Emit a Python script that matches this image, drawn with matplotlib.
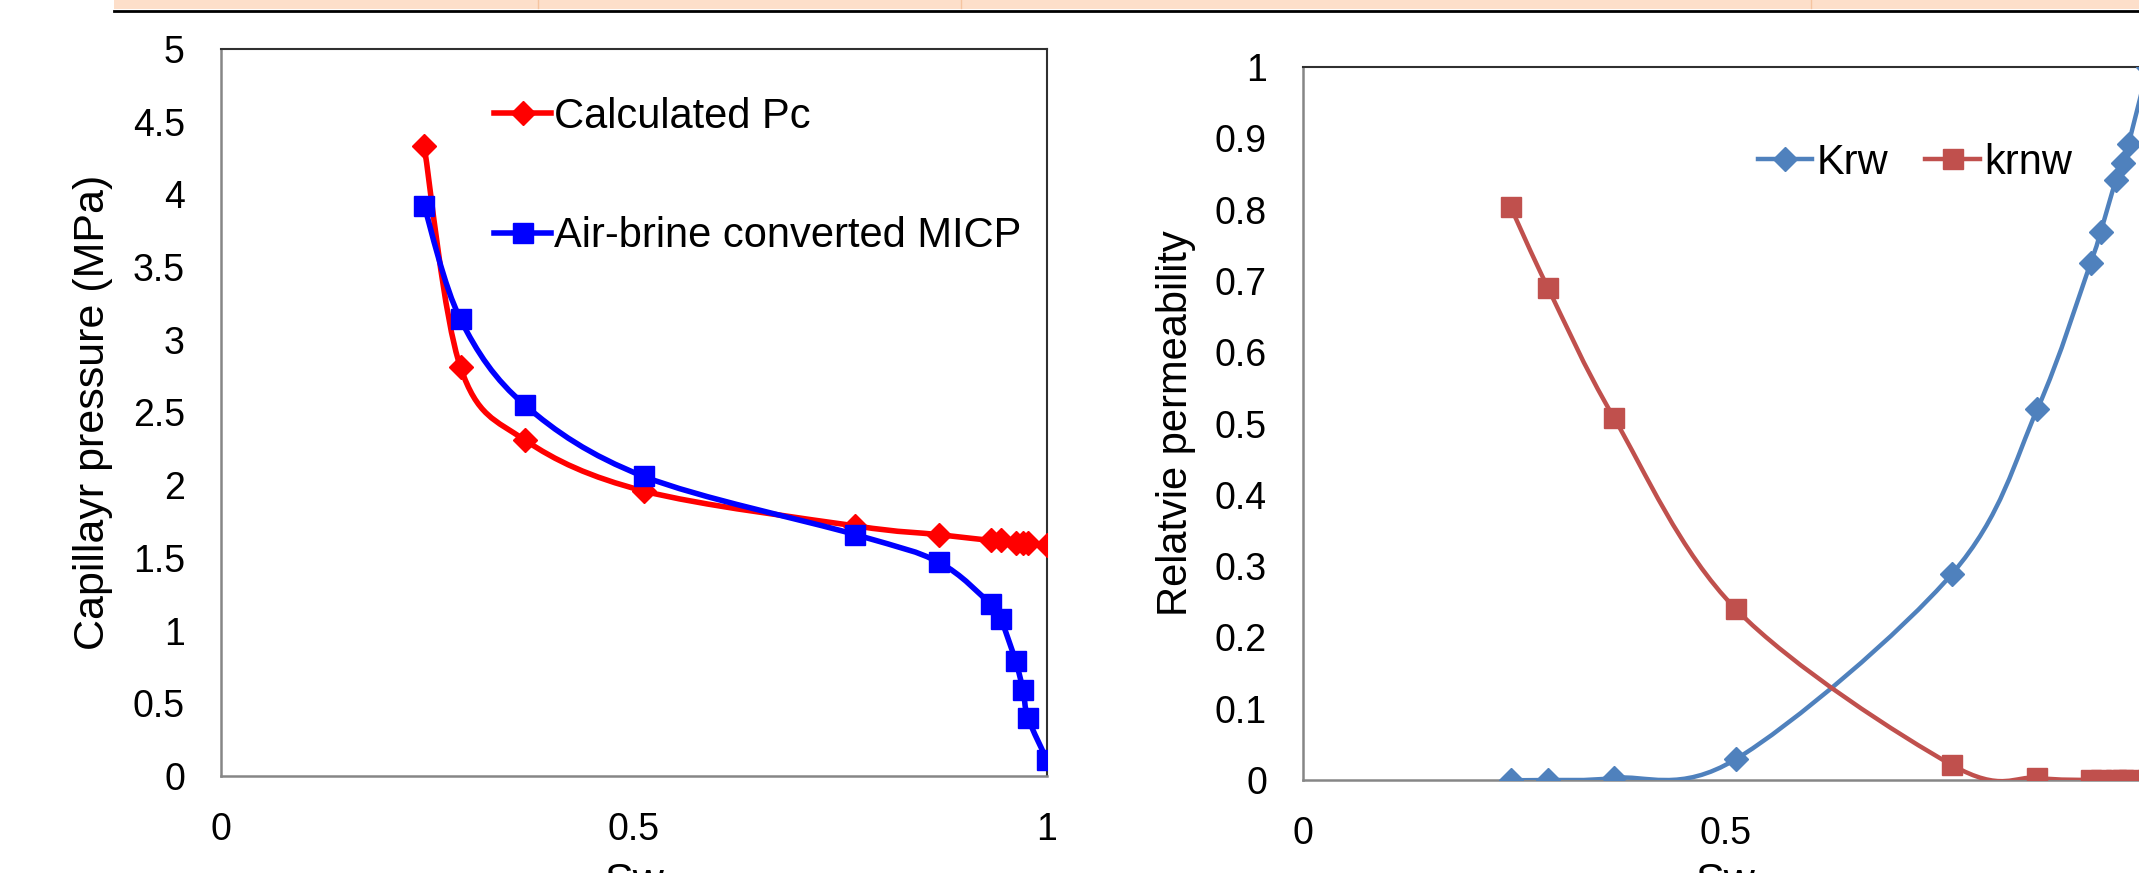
import matplotlib
matplotlib.use('Agg')
import matplotlib.pyplot as plt
import numpy as np
from matplotlib.path import Path
from matplotlib.patches import PathPatch, Rectangle
from matplotlib.lines import Line2D

plt.rcParams['font.family'] = ['Liberation Sans', 'DejaVu Sans']

# water saturation, shared by both charts
sw = [0.246, 0.290, 0.368, 0.512, 0.768, 0.869, 0.932, 0.944, 0.962, 0.971, 0.977, 1.0]

# capillary pressure (MPa)
pc_calc = [4.33, 2.81, 2.31, 1.96, 1.72, 1.66, 1.62, 1.62, 1.60, 1.60, 1.60, 1.59]
pc_micp = [3.92, 3.14, 2.55, 2.06, 1.66, 1.47, 1.18, 1.08, 0.79, 0.59, 0.40, 0.11]

# relative permeability
krw = [0.0, 0.0, 0.003, 0.029, 0.289, 0.520, 0.725, 0.769, 0.841, 0.865, 0.892, 1.0]
krnw = [0.803, 0.690, 0.508, 0.240, 0.021, 0.003, 0.0, 0.0, 0.0, 0.0, 0.0, 0.0]

W, H = 2139, 873


def smooth_path(x, y):
    # excel-like smoothed line (catmull-rom as cubic bezier)
    p = np.column_stack([x, y]).astype(float)
    n = len(p)
    verts = [p[0]]
    codes = [Path.MOVETO]
    for i in range(n - 1):
        p0 = p[i - 1] if i > 0 else p[i]
        p3 = p[i + 2] if i + 2 < n else p[i + 1]
        c1 = p[i] + (p[i + 1] - p0) / 6.0
        c2 = p[i + 1] - (p3 - p[i]) / 6.0
        verts += [c1, c2, p[i + 1]]
        codes += [Path.CURVE4] * 3
    return Path(verts, codes)


def series(ax, x, y, color, marker, ms, lw, label):
    ax.add_patch(PathPatch(smooth_path(x, y), facecolor='none', edgecolor=color,
                           lw=lw, capstyle='round', joinstyle='round', zorder=3))
    ax.plot(x, y, ls='none', marker=marker, ms=ms, color=color, mec=color, zorder=4)
    return Line2D([], [], color=color, lw=lw, marker=marker, ms=ms, label=label)


def style(ax):
    for s in ['left', 'bottom']:
        ax.spines[s].set_color('#868686')
        ax.spines[s].set_linewidth(1.8)
    for s in ['top', 'right']:
        ax.spines[s].set_color('#303030')
        ax.spines[s].set_linewidth(1.5)
    ax.tick_params(length=0, labelsize=27, pad=26)
    fmt = lambda v, _: ('%g' % round(v, 2))
    ax.xaxis.set_major_formatter(plt.FuncFormatter(fmt))
    ax.yaxis.set_major_formatter(plt.FuncFormatter(fmt))


fig = plt.figure(figsize=(W / 100, H / 100), dpi=100)

# strip of the table above the chart
fig.patches.append(Rectangle((114 / W, 1 - 9 / H), 1, 9 / H, transform=fig.transFigure,
                             facecolor='#FDDFCA', edgecolor='none'))
for xs in [538, 961, 1811]:
    fig.lines.append(Line2D([xs / W, xs / W], [1 - 8 / H, 1], transform=fig.transFigure,
                            color='#F5C4A0', lw=1))
fig.lines.append(Line2D([114 / W, 1], [1 - 10.5 / H, 1 - 10.5 / H], transform=fig.transFigure,
                        color='black', lw=2))

# left chart: capillary pressure
ax1 = fig.add_axes([221 / W, 1 - 776 / H, 826 / W, 727 / H])
h1 = series(ax1, sw, pc_calc, '#FF0000', 'D', 12, 4, 'Calculated Pc')
h2 = series(ax1, sw, pc_micp, '#0000FF', 's', 14, 4, 'Air-brine converted MICP')
ax1.set_xlim(0, 1)
ax1.set_ylim(0, 5)
ax1.set_xticks([0, 0.5, 1])
ax1.set_yticks(np.arange(0, 5.01, 0.5))
style(ax1)
ax1.legend(handles=[h1, h2], loc='upper left', bbox_to_anchor=(0.331, 0.934), frameon=False,
           fontsize=30, handlelength=1.35, handletextpad=0.08, labelspacing=1.9,
           borderpad=0, borderaxespad=0)

# right chart: relative permeability (x = 1 lies just past the picture edge)
ax2 = fig.add_axes([1303 / W, 1 - 780 / H, 845 / W, 713 / H])
h3 = series(ax2, sw, krw, '#4F81BD', 'D', 12, 3.2, 'Krw')
h4 = series(ax2, sw, krnw, '#C0504D', 's', 14, 3.2, 'krnw')
ax2.set_xlim(0, 1)
ax2.set_ylim(0, 1)
ax2.set_xticks([0, 0.5])
ax2.set_yticks(np.arange(0, 1.01, 0.1))
style(ax2)
ax2.legend(handles=[h3, h4], loc='center left', bbox_to_anchor=(455 / 845, 1 - (163 - 67) / 713),
           ncol=2, frameon=False, fontsize=30, handlelength=1.3, handletextpad=0.1,
           columnspacing=0.9, borderpad=0, borderaxespad=0)

# axis titles
fig.text(93 / W, 1 - 412 / H, 'Capillayr pressure (MPa)', rotation=90, ha='center', va='center', fontsize=31)
fig.text(1176 / W, 1 - 423 / H, 'Relatvie permeability', rotation=90, ha='center', va='center', fontsize=30)
fig.text(634 / W, 1 - 862 / H, 'Sw', ha='center', va='top', fontsize=31)
fig.text(1725 / W, 1 - 862 / H, 'Sw', ha='center', va='top', fontsize=31)

fig.savefig('out.png', dpi=100)
